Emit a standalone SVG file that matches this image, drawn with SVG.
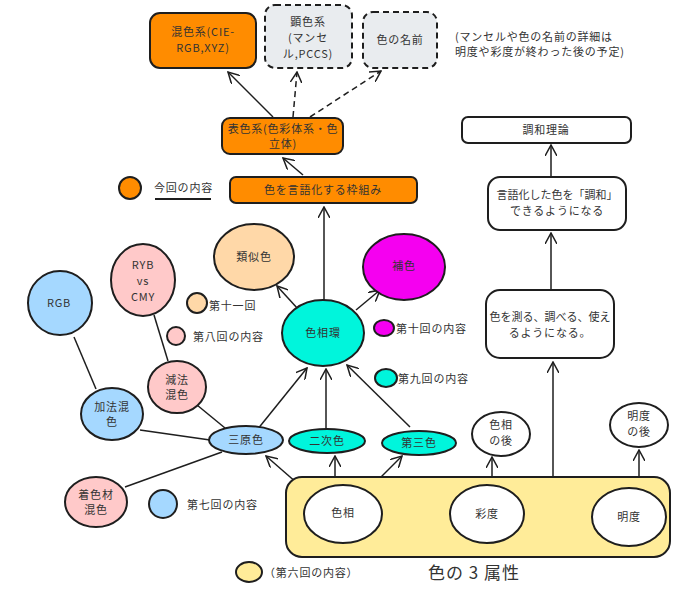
<svg xmlns="http://www.w3.org/2000/svg" width="673" height="592" viewBox="0 0 673 592">
<defs>
<marker id="ah" viewBox="0 0 12 12" refX="11" refY="6" markerWidth="12" markerHeight="12" markerUnits="userSpaceOnUse" orient="auto">
<path d="M0,0 L11,6 L0,12" fill="none" stroke="#1e1e1e" stroke-width="1.5"/>
</marker>
<style>
text{font-family:"Noto Sans CJK JP","Noto Sans",sans-serif;font-size:11px;fill:#333;text-anchor:middle;letter-spacing:0.8px}
.t0{letter-spacing:0}
.n{stroke:#1e1e1e;stroke-width:2}
.or{fill:#ff8c00}
.gr{fill:#e9ecef;stroke-dasharray:6 4}
.wh{fill:#fff}
.bl{fill:#a5d8ff}
.pk{fill:#ffc9c9}
.pe{fill:#ffd8a8}
.mg{fill:#f500f0}
.cy{fill:#00f5dc}
.ye{fill:#ffec99}
.c{stroke:#1e1e1e;stroke-width:1.5;fill:none}
.a{marker-end:url(#ah)}
.d{stroke-dasharray:6 4}
.lg{text-anchor:start}
</style>
</defs>

<g id="connectors">
<line class="c a" x1="273" y1="117" x2="228" y2="72"/>
<line class="c a d" x1="293" y1="117" x2="297" y2="72"/>
<line class="c a d" x1="310" y1="117" x2="381" y2="71"/>
<line class="c a" x1="303" y1="175" x2="283" y2="158"/>
<line class="c a" x1="324" y1="300" x2="324" y2="207"/>
<line class="c a" x1="298" y1="309" x2="277" y2="286"/>
<line class="c a" x1="356" y1="310" x2="380" y2="290"/>
<line class="c a" x1="257" y1="430" x2="307" y2="368"/>
<line class="c a" x1="326" y1="429" x2="326" y2="369"/>
<line class="c a" x1="410" y1="427" x2="347" y2="365"/>
<line class="c a" x1="313" y1="497" x2="266" y2="456"/>
<line class="c a" x1="335" y1="485" x2="335" y2="456"/>
<line class="c a" x1="370" y1="488" x2="402" y2="456"/>
<line class="c a" x1="492" y1="485" x2="492" y2="457"/>
<line class="c a" x1="639" y1="488" x2="639" y2="450"/>
<line class="c a" x1="553" y1="477" x2="553" y2="362"/>
<line class="c a" x1="551" y1="289" x2="551" y2="233"/>
<line class="c a" x1="551" y1="177" x2="551" y2="145"/>
<line class="c" x1="74" y1="337" x2="96" y2="389"/>
<line class="c" x1="154" y1="315" x2="168" y2="361"/>
<line class="c" x1="140" y1="430" x2="210" y2="440"/>
<line class="c" x1="197" y1="405" x2="225" y2="428" stroke-width="2.5"/>
<line class="c" x1="222" y1="452" x2="125" y2="487"/>
<line class="c" x1="383" y1="513" x2="450" y2="514"/>
<line class="c" x1="524" y1="521" x2="592" y2="520"/>
</g>

<g id="group-attrs">
<rect class="n ye" x="286" y="477" width="384" height="80" rx="16"/>
<text x="474" y="579" style="font-size:17px;letter-spacing:1px">色の 3 属性</text>
</g>

<g id="n-konshoku"><rect class="n or" x="150" y="13" width="106" height="55" rx="10"/><text x="203" y="36">混色系(CIE-</text><text x="203" y="52">RGB,XYZ)</text></g>
<g id="n-kenshoku"><rect class="n gr" x="265" y="5" width="87" height="63" rx="10"/><text x="308" y="26">顕色系</text><text x="308" y="42">(マンセ</text><text x="308" y="58">ル,PCCS)</text></g>
<g id="n-namae"><rect class="n gr" x="363" y="12" width="74" height="56" rx="10"/><text x="400" y="44">色の名前</text></g>
<g id="n-note"><text class="lg" x="455" y="41">(マンセルや色の名前の詳細は</text><text class="lg" x="455" y="56">明度や彩度が終わった後の予定)</text></g>
<g id="n-hyoshoku"><rect class="n or" x="222" y="118" width="121" height="36" rx="8"/><text x="283" y="133">表色系(色彩体系・色</text><text x="283" y="148">立体)</text></g>
<g id="n-waku"><rect class="n or" x="230" y="177" width="187" height="26" rx="6"/><text x="323" y="194">色を言語化する枠組み</text></g>
<g id="lg-konkai"><circle class="n or" cx="130" cy="188" r="11"/><text class="lg" x="154" y="192">今回の内容</text><line x1="155" y1="199" x2="211" y2="199" stroke="#1e1e1e" stroke-width="2"/></g>

<g id="n-chowa"><rect class="n wh" x="462" y="117" width="169" height="26" rx="6"/><text x="546" y="134">調和理論</text></g>
<g id="n-gengoka"><rect class="n wh" x="488" y="177" width="138" height="53" rx="12"/><text class="t0" x="557" y="199">言語化した色を「調和」</text><text x="557" y="215">できるようになる</text></g>
<g id="n-hakaru"><rect class="n wh" x="486" y="290" width="128" height="68" rx="14"/><text class="t0" x="550" y="321">色を測る、調べる、使え</text><text x="550" y="337">るようになる。</text></g>

<g id="n-rgb"><ellipse class="n bl" cx="60" cy="303" rx="32" ry="32"/><text x="59" y="307">RGB</text></g>
<g id="n-ryb"><ellipse class="n pk" cx="143" cy="280" rx="32" ry="36"/><text x="143" y="269">RYB</text><text x="143" y="285">vs</text><text x="143" y="301">CMY</text></g>
<g id="lg-11"><circle class="n pe" cx="197" cy="303" r="10"/><text class="lg" x="209" y="310">第十一回</text></g>
<g id="lg-8"><circle class="n pk" cx="176" cy="336" r="9"/><text class="lg" x="193" y="341">第八回の内容</text></g>
<g id="n-genpo"><ellipse class="n pk" cx="177" cy="387" rx="29" ry="26"/><text x="177" y="384">減法</text><text x="177" y="399">混色</text></g>
<g id="n-kaho"><ellipse class="n bl" cx="112" cy="414" rx="31" ry="26"/><text x="112" y="411">加法混</text><text x="112" y="426">色</text></g>
<g id="n-sangen"><ellipse class="n bl" cx="246" cy="440" rx="37" ry="14"/><text x="246" y="444">三原色</text></g>
<g id="n-chakushoku"><ellipse class="n pk" cx="96" cy="502" rx="31" ry="25"/><text x="96" y="499">着色材</text><text x="96" y="514">混色</text></g>
<g id="lg-7"><circle class="n bl" cx="163" cy="504" r="14"/><text class="lg" x="187" y="509">第七回の内容</text></g>

<g id="n-ruiji"><ellipse class="n pe" cx="254" cy="257" rx="40" ry="33"/><text x="254" y="261">類似色</text></g>
<g id="n-hoshoku"><ellipse class="n mg" cx="404" cy="267" rx="41" ry="33"/><text x="404" y="270">補色</text></g>
<g id="n-hue-ring"><ellipse class="n cy" cx="323" cy="333" rx="41" ry="33"/><text x="323" y="337">色相環</text></g>
<g id="lg-10"><ellipse class="n mg" cx="384" cy="328" rx="10" ry="8"/><text class="lg" x="396" y="333">第十回の内容</text></g>
<g id="lg-9"><ellipse class="n cy" cx="386" cy="378" rx="11" ry="9"/><text class="lg" x="398" y="383">第九回の内容</text></g>
<g id="n-niji"><ellipse class="n cy" cx="327" cy="441" rx="38" ry="12"/><text x="327" y="445">二次色</text></g>
<g id="n-daisan"><ellipse class="n cy" cx="419" cy="443" rx="37" ry="12"/><text x="419" y="447">第三色</text></g>

<g id="n-shikiso"><ellipse class="n wh" cx="343" cy="514" rx="39" ry="29"/><text x="343" y="517">色相</text></g>
<g id="n-saido"><ellipse class="n wh" cx="487" cy="514" rx="37" ry="29"/><text x="487" y="518">彩度</text></g>
<g id="n-meido"><ellipse class="n wh" cx="629" cy="517" rx="37" ry="29"/><text x="629" y="521">明度</text></g>
<g id="n-hue-after"><ellipse class="n wh" cx="501" cy="434" rx="29" ry="22"/><text x="501" y="429">色相</text><text x="501" y="445">の後</text></g>
<g id="n-light-after"><ellipse class="n wh" cx="639" cy="425" rx="29" ry="22"/><text x="639" y="420">明度</text><text x="639" y="436">の後</text></g>
<g id="lg-6"><ellipse class="n ye" cx="249" cy="572" rx="13" ry="10"/><text class="lg" x="264" y="577">（第六回の内容）</text></g>
</svg>
